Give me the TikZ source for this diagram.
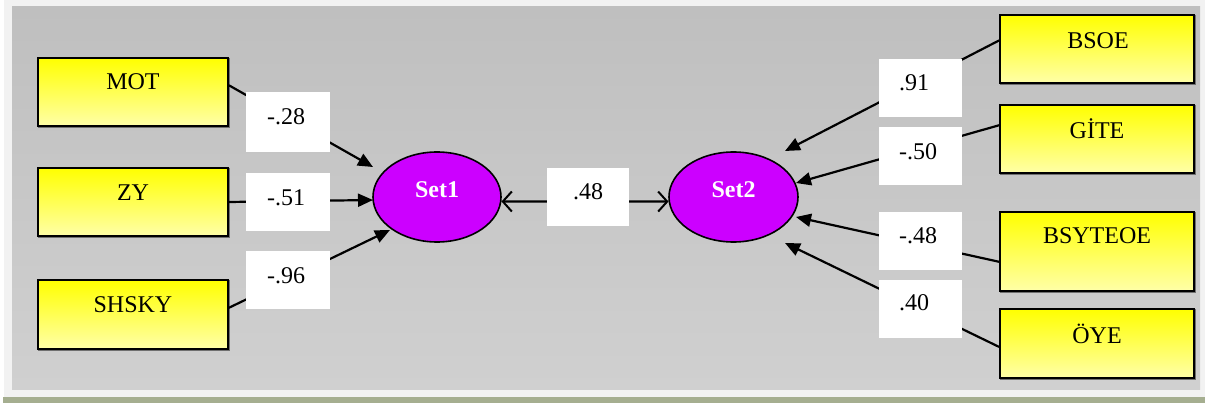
\documentclass[tikz,border=0pt]{standalone}
\usepackage{fontspec}
\setmainfont{Liberation Serif}
\usetikzlibrary{arrows.meta,shapes.geometric}
\definecolor{frameg}{HTML}{F2F2F2}
\definecolor{bgtop}{HTML}{BFBFBF}
\definecolor{bgbot}{HTML}{D0D0D0}
\definecolor{stripg}{HTML}{A5AE90}
\definecolor{ytop}{HTML}{FFFF00}
\definecolor{ybot}{HTML}{FFFFA8}
\definecolor{mag}{HTML}{CC00FF}
\definecolor{shad}{HTML}{707070}
\tikzset{
  varbox/.style={rectangle, draw=black, line width=1.8pt, top color=ytop, bottom color=ybot,
    minimum width=190pt, inner sep=0pt,
    preaction={draw=shad, line width=1.8pt, transform canvas={xshift=1.2pt,yshift=-1.2pt}}},
  vtext/.style={inner sep=0pt, font=\fontsize{24}{28}\selectfont},
  latent/.style={ellipse, draw=black, line width=1.6pt, fill=mag, inner sep=0pt,
    minimum width=128pt, minimum height=90pt},
  ltext/.style={inner sep=0pt, text=white, font=\fontsize{24}{28}\selectfont\bfseries},
  labbox/.style={rectangle, fill=white, inner sep=0pt, minimum width=84pt, minimum height=58pt},
  ntext/.style={inner sep=0pt, anchor=west, font=\fontsize{24}{28}\selectfont},
  arr/.style={line width=2.2pt, -{Triangle[length=15pt,width=13pt]}},
  dbl/.style={line width=2.2pt, {Straight Barb[length=9pt,width=20pt,line width=2pt]}-{Straight Barb[length=9pt,width=20pt,line width=2pt]}},
}
\begin{document}
\begin{tikzpicture}[x=1pt,y=-1pt]
\useasboundingbox (0,0) rectangle (1205,403);
\fill[white] (0,0) rectangle (1205,403);
\fill[frameg] (4,0) rectangle (1205,397);
\shade[top color=bgtop, bottom color=bgbot] (12,7) rectangle (1200,389);
\fill[stripg] (3,397) rectangle (1205,403);

% observed variables, left
\node[varbox, minimum height=68pt] (mot) at (133,92) {};
\node[vtext] (motT) at (133,82) {MOT};
\node[varbox, minimum height=68pt] (zy) at (133,202) {};
\node[vtext] (zyT) at (133,193) {ZY};
\node[varbox, minimum height=69pt] (shsky) at (133,314.5) {};
\node[vtext] (shskyT) at (133,305) {SHSKY};

% observed variables, right
\node[varbox, minimum width=194pt, minimum height=68pt] (bsoe) at (1097,49) {};
\node[vtext] (bsoeT) at (1098,41) {BSOE};
\node[varbox, minimum width=194pt, minimum height=68pt] (gite) at (1097,139) {};
\node[vtext] (giteT) at (1097,129) {GİTE};
\node[varbox, minimum width=194pt, minimum height=79pt] (bsy) at (1097,251.5) {};
\node[vtext] (bsyT) at (1097,236) {BSYTEOE};
\node[varbox, minimum width=194pt, minimum height=69pt] (oye) at (1097,343.5) {};
\node[vtext] (oyeT) at (1097,334) {ÖYE};

% latent variables
\node[latent] (set1) at (437,197) {};
\node[ltext] (set1T) at (437,190) {Set1};
\node[latent, minimum width=129pt] (set2) at (733.5,197) {};
\node[ltext] (set2T) at (733.5,190) {Set2};

% arrow tips
\coordinate (t1) at (373,167);
\coordinate (t2) at (373,200);
\coordinate (t3) at (390,230);
\coordinate (t4) at (785,151);
\coordinate (t5) at (796,183);
\coordinate (t6) at (796,217);
\coordinate (t7) at (785,243);

% connectors
\draw[arr] (mot.4.2) -- (t1);
\draw[arr] (zy.0) -- (t2);
\draw[arr] (shsky.4.5) -- (t3);
\draw[arr] (bsoe.175.3) -- (t4);
\draw[arr] (gite.172.4) -- (t5);
\draw[arr] (bsy.186.2) -- (t6);
\draw[arr] (oye.182.7) -- (t7);
\draw[dbl] (set1.-4.5) -- (set2.184.5);

% coefficient labels
\node[labbox, minimum height=60pt] (l1) at (288,122) {};
\node[ntext] (l1T) at (267,117) {-.28};
\node[labbox] (l2) at (288,202) {};
\node[ntext] (l2T) at (267,198) {-.51};
\node[labbox] (l3) at (288,280) {};
\node[ntext] (l3T) at (267,276) {-.96};
\node[labbox, minimum width=82pt] (l4) at (588,197) {};
\node[ntext] (l4T) at (573,192) {.48};
\node[labbox, minimum width=83pt] (l5) at (920.5,88) {};
\node[ntext] (l5T) at (899,83) {.91};
\node[labbox, minimum width=83pt] (l6) at (920.5,156) {};
\node[ntext] (l6T) at (899,152) {-.50};
\node[labbox, minimum width=83pt] (l7) at (920.5,241) {};
\node[ntext] (l7T) at (899,236) {-.48};
\node[labbox, minimum width=83pt] (l8) at (920.5,309) {};
\node[ntext] (l8T) at (899,303) {.40};
\end{tikzpicture}
\end{document}
